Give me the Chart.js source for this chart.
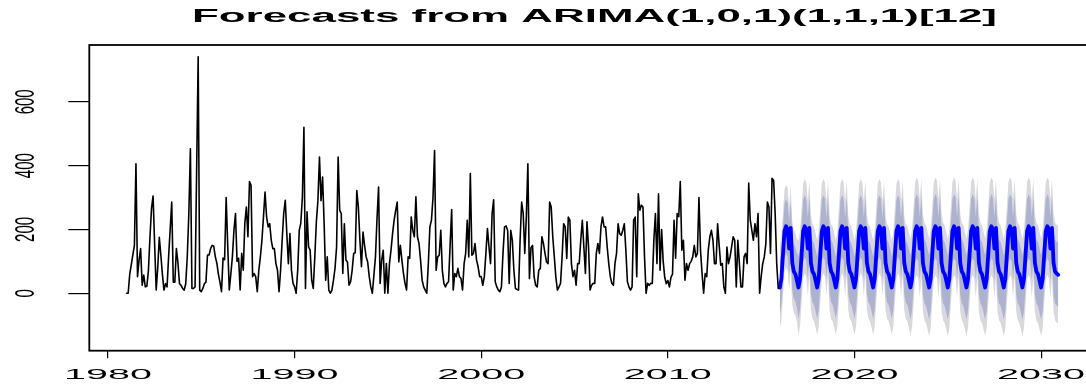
<!DOCTYPE html>
<html>
<head>
<meta charset="utf-8">
<script src="https://cdn.jsdelivr.net/npm/chart.js@4.4.1/dist/chart.umd.min.js"></script>
<style>
  html, body { margin: 0; padding: 0; background: #fff; overflow: hidden; }
  canvas { display: block; }
</style>
</head>
<body>
<canvas id="grafico" width="1100" height="385"></canvas>
<script>
// Datos de la serie (mensual)
const inicioHist = 1981;
const inicioPron = 2016;
const frecuencia = 12;
const titulo = "Forecasts from ARIMA(1,0,1)(1,1,1)[12]";
const ticksX = [1980, 1990, 2000, 2010, 2020, 2030];
const ticksY = [0, 200, 400, 600];

// Observado: ene 1981 - dic 2015
const historico = [
    0, 0, 60, 90, 120, 150, 406, 52, 104, 140, 25, 57,
    20, 22, 70, 175, 265, 305, 155, 10, 80, 175, 120, 60,
    10, 30, 20, 115, 200, 286, 35, 35, 140, 95, 30, 25,
    15, 10, 30, 115, 250, 453, 15, 15, 20, 380, 741, 10,
    5, 15, 30, 35, 120, 120, 140, 150, 148, 115, 95, 60,
    35, 5, 110, 105, 300, 150, 10, 60, 114, 197, 250, 100,
    110, 10, 125, 72, 220, 270, 177, 350, 338, 52, 62, 52,
    5, 72, 114, 166, 240, 317, 239, 208, 218, 166, 140, 140,
    93, 72, 5, 72, 166, 250, 291, 187, 93, 187, 72, 31,
    20, 0, 72, 197, 220, 300, 520, 15, 255, 145, 135, 41,
    15, 114, 224, 291, 427, 290, 364, 218, 41, 114, 10, 0,
    10, 41, 78, 145, 427, 260, 250, 62, 218, 104, 98, 25,
    36, 72, 125, 127, 322, 270, 166, 83, 192, 150, 114, 98,
    52, 20, 0, 57, 114, 234, 333, 31, 104, 135, 0, 93,
    0, 93, 135, 187, 229, 260, 286, 98, 150, 104, 62, 31,
    10, 114, 109, 239, 197, 177, 302, 177, 156, 104, 41, 20,
    10, 0, 93, 208, 229, 300, 447, 72, 114, 119, 197, 72,
    31, 20, 31, 36, 150, 262, 10, 62, 52, 78, 52, 46,
    10, 93, 125, 229, 114, 375, 119, 125, 156, 104, 83, 52,
    52, 25, 52, 125, 203, 145, 93, 250, 293, 36, 20, 10,
    5, 20, 125, 208, 211, 197, 31, 197, 166, 72, 15, 12,
    10, 166, 286, 250, 125, 239, 406, 46, 143, 150, 52, 25,
    20, 72, 78, 177, 156, 125, 98, 93, 286, 270, 177, 114,
    50, 10, 20, 31, 114, 218, 208, 109, 239, 229, 93, 52,
    72, 25, 93, 93, 166, 229, 145, 62, 224, 145, 10, 25,
    31, 31, 125, 156, 125, 208, 239, 208, 208, 145, 93, 52,
    31, 25, 93, 125, 218, 187, 182, 197, 218, 135, 36, 20,
    10, 20, 229, 239, 52, 312, 260, 276, 270, 114, 0, 31,
    25, 31, 31, 166, 250, 93, 312, 72, 200, 100, 50, 30,
    40, 20, 50, 60, 229, 110, 250, 240, 350, 135, 166, 41,
    93, 72, 93, 100, 114, 150, 114, 125, 300, 135, 62, 0,
    62, 52, 135, 177, 197, 166, 93, 93, 218, 150, 88, 93,
    20, 0, 145, 93, 114, 145, 177, 166, 20, 166, 93, 20,
    20, 114, 125, 93, 345, 229, 197, 166, 218, 177, 250, 0,
    52, 93, 114, 155, 286, 270, 125, 360, 354, 250, 93, 15
];

// Pronóstico: ene 2016 - dic 2030
const pronMedia = [
    18, 45, 120, 195, 210, 200, 140, 205, 95, 68, 60, 40,
    18, 45, 120, 195, 210, 200, 140, 205, 95, 68, 60, 40,
    18, 45, 120, 195, 210, 200, 140, 205, 95, 68, 60, 40,
    18, 45, 120, 195, 210, 200, 140, 205, 95, 68, 60, 40,
    18, 45, 120, 195, 210, 200, 140, 205, 95, 68, 60, 40,
    18, 45, 120, 195, 210, 200, 140, 205, 95, 68, 60, 40,
    18, 45, 120, 195, 210, 200, 140, 205, 95, 68, 60, 40,
    18, 45, 120, 195, 210, 200, 140, 205, 95, 68, 60, 40,
    18, 45, 120, 195, 210, 200, 140, 205, 95, 68, 60, 40,
    18, 45, 120, 195, 210, 200, 140, 205, 95, 68, 60, 40,
    18, 45, 120, 195, 210, 200, 140, 205, 95, 68, 60, 40,
    18, 45, 120, 195, 210, 200, 140, 205, 95, 68, 60, 40,
    18, 45, 120, 195, 210, 200, 140, 205, 95, 68, 60, 40,
    18, 45, 120, 195, 210, 200, 140, 205, 95, 68, 60, 40,
    18, 45, 120, 195, 210, 200, 140, 205, 95, 68, 62, 58
];

const pronAlto80 = [
    103, 130, 205, 280, 295, 285, 225, 290, 180, 153, 145, 125,
    115, 142, 217, 292, 307, 297, 237, 302, 192, 165, 157, 137,
    115, 142, 217, 292, 307, 297, 237, 302, 192, 165, 157, 137,
    115, 142, 217, 292, 307, 297, 237, 302, 192, 165, 157, 137,
    115, 142, 217, 292, 307, 297, 237, 302, 192, 165, 157, 137,
    115, 142, 217, 292, 307, 297, 237, 302, 192, 165, 157, 137,
    115, 142, 217, 292, 307, 297, 237, 302, 192, 165, 157, 137,
    118, 145, 220, 295, 310, 300, 240, 305, 195, 168, 160, 140,
    118, 145, 220, 295, 310, 300, 240, 305, 195, 168, 160, 140,
    118, 145, 220, 295, 310, 300, 240, 305, 195, 168, 160, 140,
    118, 145, 220, 295, 310, 300, 240, 305, 195, 168, 160, 140,
    118, 145, 220, 295, 310, 300, 240, 305, 195, 168, 160, 140,
    118, 145, 220, 295, 310, 300, 240, 305, 195, 168, 160, 140,
    118, 145, 220, 295, 310, 300, 240, 305, 195, 168, 160, 140,
    118, 145, 220, 295, 310, 300, 240, 305, 195, 168, 162, 158
];

const pronBajo80 = [
    -67, -40, 35, 110, 125, 115, 55, 120, 10, -17, -25, -45,
    -79, -52, 23, 98, 113, 103, 43, 108, -2, -29, -37, -57,
    -79, -52, 23, 98, 113, 103, 43, 108, -2, -29, -37, -57,
    -79, -52, 23, 98, 113, 103, 43, 108, -2, -29, -37, -57,
    -79, -52, 23, 98, 113, 103, 43, 108, -2, -29, -37, -57,
    -79, -52, 23, 98, 113, 103, 43, 108, -2, -29, -37, -57,
    -79, -52, 23, 98, 113, 103, 43, 108, -2, -29, -37, -57,
    -82, -55, 20, 95, 110, 100, 40, 105, -5, -32, -40, -60,
    -82, -55, 20, 95, 110, 100, 40, 105, -5, -32, -40, -60,
    -82, -55, 20, 95, 110, 100, 40, 105, -5, -32, -40, -60,
    -82, -55, 20, 95, 110, 100, 40, 105, -5, -32, -40, -60,
    -82, -55, 20, 95, 110, 100, 40, 105, -5, -32, -40, -60,
    -82, -55, 20, 95, 110, 100, 40, 105, -5, -32, -40, -60,
    -82, -55, 20, 95, 110, 100, 40, 105, -5, -32, -40, -60,
    -82, -55, 20, 95, 110, 100, 40, 105, -5, -32, -38, -42
];

const pronAlto95 = [
    148, 175, 250, 325, 340, 330, 270, 335, 225, 198, 190, 170,
    166, 193, 268, 343, 358, 348, 288, 353, 243, 216, 208, 188,
    166, 193, 268, 343, 358, 348, 288, 353, 243, 216, 208, 188,
    166, 193, 268, 343, 358, 348, 288, 353, 243, 216, 208, 188,
    166, 193, 268, 343, 358, 348, 288, 353, 243, 216, 208, 188,
    166, 193, 268, 343, 358, 348, 288, 353, 243, 216, 208, 188,
    166, 193, 268, 343, 358, 348, 288, 353, 243, 216, 208, 188,
    171, 198, 273, 348, 363, 353, 293, 358, 248, 221, 213, 193,
    171, 198, 273, 348, 363, 353, 293, 358, 248, 221, 213, 193,
    171, 198, 273, 348, 363, 353, 293, 358, 248, 221, 213, 193,
    171, 198, 273, 348, 363, 353, 293, 358, 248, 221, 213, 193,
    171, 198, 273, 348, 363, 353, 293, 358, 248, 221, 213, 193,
    171, 198, 273, 348, 363, 353, 293, 358, 248, 221, 213, 193,
    171, 198, 273, 348, 363, 353, 293, 358, 248, 221, 213, 193,
    171, 198, 273, 348, 363, 353, 293, 358, 248, 221, 215, 211
];

const pronBajo95 = [
    -112, -85, -10, 65, 80, 70, 10, 75, -35, -62, -70, -90,
    -130, -103, -28, 47, 62, 52, -8, 57, -53, -80, -88, -108,
    -130, -103, -28, 47, 62, 52, -8, 57, -53, -80, -88, -108,
    -130, -103, -28, 47, 62, 52, -8, 57, -53, -80, -88, -108,
    -130, -103, -28, 47, 62, 52, -8, 57, -53, -80, -88, -108,
    -130, -103, -28, 47, 62, 52, -8, 57, -53, -80, -88, -108,
    -130, -103, -28, 47, 62, 52, -8, 57, -53, -80, -88, -108,
    -135, -108, -33, 42, 57, 47, -13, 52, -58, -85, -93, -113,
    -135, -108, -33, 42, 57, 47, -13, 52, -58, -85, -93, -113,
    -135, -108, -33, 42, 57, 47, -13, 52, -58, -85, -93, -113,
    -135, -108, -33, 42, 57, 47, -13, 52, -58, -85, -93, -113,
    -135, -108, -33, 42, 57, 47, -13, 52, -58, -85, -93, -113,
    -135, -108, -33, 42, 57, 47, -13, 52, -58, -85, -93, -113,
    -135, -108, -33, 42, 57, 47, -13, 52, -58, -85, -93, -113,
    -135, -108, -33, 42, 57, 47, -13, 52, -58, -85, -91, -95
];

// Convierte una serie mensual en puntos {x: año, y: valor}
function puntos(serie, inicio) {
    return serie.map((v, i) => ({ x: inicio + i / frecuencia, y: v }));
}

// Caja, título y etiquetas estiradas a lo ancho (como en la imagen original)
const textosR = {
    id: 'textosR',
    afterDraw(chart) {
        const ctx = chart.ctx;
        const area = chart.chartArea;
        ctx.save();

        ctx.strokeStyle = '#000';
        ctx.lineWidth = 1.8;
        ctx.strokeRect(area.left, area.top, area.right - area.left, area.bottom - area.top);

        ctx.fillStyle = '#000';
        ctx.textAlign = 'center';
        ctx.textBaseline = 'alphabetic';

        // Título
        ctx.font = 'bold 18.7px "Liberation Sans", Arial, sans-serif';
        const escTitulo = 805 / ctx.measureText(titulo).width;
        ctx.save();
        ctx.translate((area.left + area.right) / 2 + 2, 21.7);
        ctx.scale(escTitulo, 1);
        ctx.fillText(titulo, 0, 0);
        ctx.restore();

        // Etiquetas del eje X
        ctx.font = '14px "Liberation Sans", Arial, sans-serif';
        const escX = 88 / ctx.measureText("1980").width;
        chart.scales.x.ticks.forEach(t => {
            const px = chart.scales.x.getPixelForValue(t.value);
            ctx.save();
            ctx.translate(px, 379.3);
            ctx.scale(escX, 1);
            ctx.fillText(String(t.value), 0, 0);
            ctx.restore();
        });

        // Etiquetas del eje Y (giradas)
        ctx.font = '15px "Liberation Sans", Arial, sans-serif';
        chart.scales.y.ticks.forEach(t => {
            const py = chart.scales.y.getPixelForValue(t.value);
            ctx.save();
            ctx.translate(33.5, py);
            ctx.scale(1.9, 1);
            ctx.rotate(-Math.PI / 2);
            ctx.fillText(String(t.value), 0, 0);
            ctx.restore();
        });

        ctx.restore();
    }
};

const sinBorde = 'rgba(0,0,0,0)';

new Chart(document.getElementById('grafico').getContext('2d'), {
    type: 'line',
    data: {
        datasets: [
            { data: puntos(historico, inicioHist), borderColor: '#000000', borderWidth: 1.6, fill: false },
            { data: puntos(pronMedia, inicioPron), borderColor: '#0000ff', borderWidth: 3.8, fill: false },
            { data: puntos(pronAlto80, inicioPron), borderColor: sinBorde, borderWidth: 1, backgroundColor: '#adb3cf', fill: '+1' },
            { data: puntos(pronBajo80, inicioPron), borderColor: sinBorde, borderWidth: 1, fill: false },
            { data: puntos(pronAlto95, inicioPron), borderColor: sinBorde, borderWidth: 1, backgroundColor: '#d8d8de', fill: '+1' },
            { data: puntos(pronBajo95, inicioPron), borderColor: sinBorde, borderWidth: 1, fill: false }
        ]
    },
    options: {
        responsive: false,
        animation: false,
        devicePixelRatio: 1,
        elements: {
            point: { radius: 0, hoverRadius: 0 },
            line: { tension: 0, borderJoinStyle: 'round', borderCapStyle: 'round' }
        },
        layout: { padding: { top: 45, right: 4.4, left: 0, bottom: 0 } },
        plugins: {
            legend: { display: false },
            tooltip: { enabled: false },
            title: { display: false }
        },
        scales: {
            x: {
                type: 'linear',
                min: 1979.0,
                max: 2032.92,
                afterFit: s => { s.height = 34.3; },
                afterBuildTicks: s => { s.ticks = ticksX.map(v => ({ value: v })); },
                ticks: { display: false },
                grid: { drawOnChartArea: false, drawTicks: true, tickLength: 7.5, color: '#000', lineWidth: 1.2 },
                border: { display: false }
            },
            y: {
                type: 'linear',
                min: -180,
                max: 778,
                afterFit: s => { s.width = 89.3; },
                afterBuildTicks: s => { s.ticks = ticksY.map(v => ({ value: v })); },
                ticks: { display: false },
                grid: { drawOnChartArea: false, drawTicks: true, tickLength: 21, color: '#000', lineWidth: 1.2 },
                border: { display: false }
            }
        }
    },
    plugins: [textosR]
});
</script>
</body>
</html>
